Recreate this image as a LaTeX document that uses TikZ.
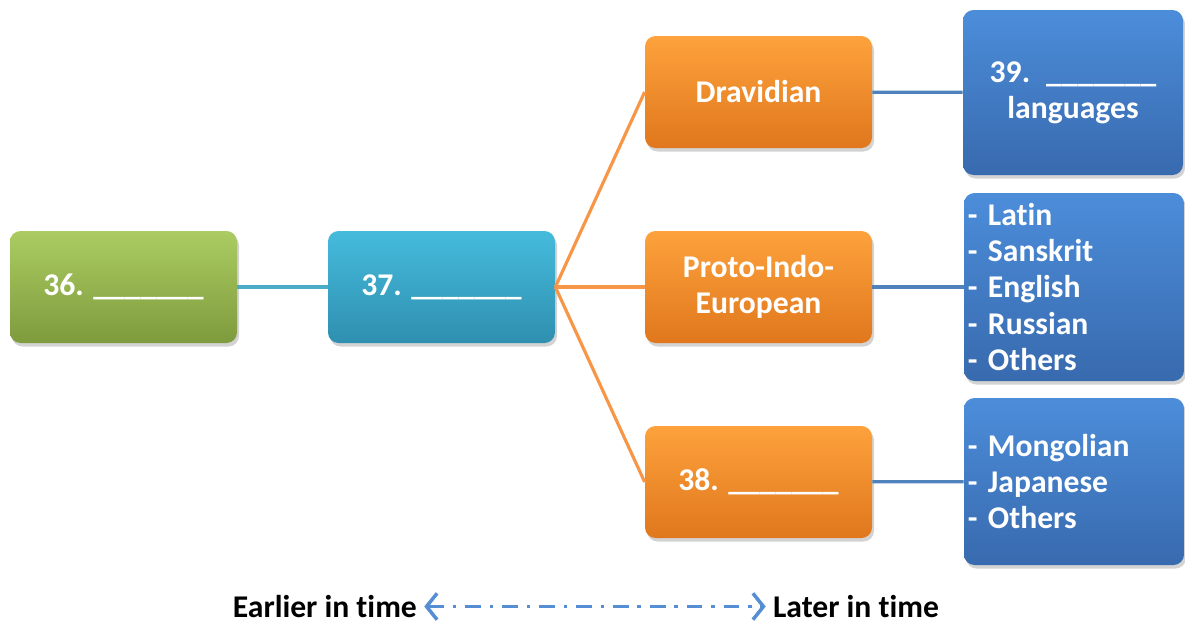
\documentclass[tikz,border=0pt]{standalone}
\usepackage{fontspec}
\setmainfont[Ligatures=NoCommon]{Carlito}
\usetikzlibrary{arrows.meta,shadows}
\definecolor{grnT}{HTML}{ABCC62}
\definecolor{grnB}{HTML}{7E9B3D}
\definecolor{cyaT}{HTML}{45BBDC}
\definecolor{cyaB}{HTML}{2F8FB0}
\definecolor{orgT}{HTML}{FDA23C}
\definecolor{orgB}{HTML}{E0771D}
\definecolor{bluT}{HTML}{4C8DDA}
\definecolor{bluB}{HTML}{386AAE}
\definecolor{cyaLine}{HTML}{4BACC6}
\definecolor{orgLine}{HTML}{F79646}
\definecolor{bluLine}{HTML}{4F81BD}
\definecolor{timeArrow}{HTML}{558ED5}
\begin{document}
\begin{tikzpicture}[line cap=butt,line join=miter,>=stealth,
	font=\bfseries\fontsize{18}{20.5}\selectfont,
	box/.style={rounded corners=6pt,text=white,align=center,inner sep=2pt,
		minimum width=4.54cm,minimum height=2.24cm,
		drop shadow={opacity=0.35,shadow xshift=0.04cm,shadow yshift=-0.07cm}},
	greenbox/.style={box,top color=grnT,bottom color=grnB},
	cyanbox/.style={box,top color=cyaT,bottom color=cyaB},
	orangebox/.style={box,top color=orgT,bottom color=orgB},
	bluebox/.style={box,top color=bluT,bottom color=bluB,minimum width=4.4cm,text width=4.25cm},
	link/.style={line width=1.8pt}]
	\useasboundingbox (0,0) rectangle (23.7,-12.46);
	%--------- Boxes
	\node[greenbox] (q36) at (2.47,-5.74) {36. \_\_\_\_\_\_\_};
	\node[cyanbox] (q37) at (8.83,-5.74) {37. \_\_\_\_\_\_\_};
	\node[orangebox] (drav) at (15.17,-1.84) {Dravidian};
	\node[orangebox] (pie) at (15.17,-5.74) {Proto-Indo-\\European};
	\node[orangebox] (q38) at (15.17,-9.64) {38. \_\_\_\_\_\_\_};
	\node[bluebox,minimum height=3.3cm] (q39) at (21.46,-1.85) {39. \_\_\_\_\_\_\_\\languages};
	\node[bluebox,minimum height=3.76cm,align=left] (pielist) at (21.48,-5.74)
		{- Latin\\- Sanskrit\\- English\\- Russian\\- Others};
	\node[bluebox,minimum height=3.34cm,align=left] (q38list) at (21.48,-9.63)
		{- Mongolian\\- Japanese\\- Others};
	%--------- Links
	\draw[link,cyaLine] (q36) -- (q37);
	\foreach \b in {drav,pie,q38}
		\draw[link,orgLine] (q37.east) -- (\b.west);
	\draw[link,bluLine] (drav) -- (q39);
	\draw[link,bluLine] (pie) -- (pielist);
	\draw[link,bluLine] (q38) -- (q38list);
	%--------- Time axis
	\node[anchor=east,inner sep=1pt] (early) at (8.38,-12.13) {Earlier in time};
	\node[anchor=west,inner sep=1pt] (late) at (15.42,-12.13) {Later in time};
	\draw[timeArrow,line width=2pt,dash pattern=on 9pt off 5pt on 2pt off 5pt,
		{Straight Barb[length=6pt,width=15pt,line width=2pt]}-{Straight Barb[length=6pt,width=15pt,line width=2pt]},
		shorten <=3pt,shorten >=3pt] (early.east) -- (late.west);
\end{tikzpicture}
\end{document}
